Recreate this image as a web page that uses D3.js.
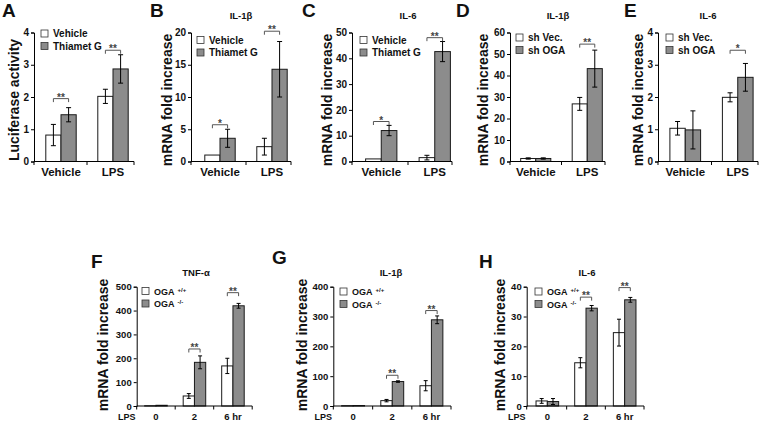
<!DOCTYPE html>
<html>
<head>
<meta charset="utf-8">
<script src="https://cdn.jsdelivr.net/npm/d3@7"></script>
<style>
  body { margin: 0; background: #fff; }
  svg text { font-family: "Liberation Sans Narrow", "Liberation Sans", Arial, sans-serif; font-weight: bold; fill: #111; }
  .num text, text.num { font-family: "Liberation Sans", Arial, sans-serif; }
</style>
</head>
<body>
<svg id="fig" width="765" height="421"></svg>
<script>
// ---- categories / series ----
const vehLps = ["Vehicle", "LPS"];
const lpsTimes = ["0", "2", "6 hr"];
const seriesThiamet = ["Vehicle", "Thiamet G"];
const seriesSh = ["sh Vec.", "sh OGA"];
const seriesOga = ["OGA", "OGA"];
const seriesOgaSup = ["+/+", "-/-"];

// ---- A: luciferase activity ----
const aMean = [[0.82, 1.45], [2.02, 2.87]];
const aErr = [[0.33, 0.22], [0.22, 0.44]];
const aSig = ["**", "**"];
const aSigAt = [1.95, 3.45];
const aTicks = [0, 1, 2, 3, 4];

// ---- B: IL-1b, Thiamet G ----
const bMean = [[1.0, 3.6], [2.3, 14.3]];
const bErr = [[0, 1.4], [1.3, 4.3]];
const bSig = ["*", "**"];
const bSigAt = [5.7, 20.2];
const bTicks = [0, 5, 10, 15, 20];

// ---- C: IL-6, Thiamet G ----
const cMean = [[1.0, 12.0], [1.5, 42.6]];
const cErr = [[0, 2.0], [0.9, 3.9]];
const cSig = ["*", "**"];
const cSigAt = [15.5, 48];
const cTicks = [0, 10, 20, 30, 40, 50];

// ---- D: IL-1b, sh OGA ----
const dMean = [[1.4, 1.4], [26.8, 43.2]];
const dErr = [[0.3, 0.3], [3.0, 8.6]];
const dSig = ["", "**"];
const dSigAt = [null, 54.6];
const dTicks = [0, 10, 20, 30, 40, 50, 60];

// ---- E: IL-6, sh OGA ----
const eMean = [[1.03, 0.98], [1.99, 2.61]];
const eErr = [[0.21, 0.59], [0.14, 0.43]];
const eSig = ["", "*"];
const eSigAt = [null, 3.45];
const eTicks = [0, 1, 2, 3, 4];

// ---- F: TNF-a, OGA KO ----
const fMean = [[1, 3], [42, 183], [168, 420]];
const fErr = [[0, 0], [10, 27], [32, 10]];
const fSig = ["", "**", "**"];
const fSigAt = [null, 239, 475];
const fTicks = [0, 100, 200, 300, 400, 500];

// ---- G: IL-1b, OGA KO ----
const gMean = [[1, 1.5], [18, 82], [68, 289]];
const gErr = [[0, 0], [4, 2.5], [17, 13]];
const gSig = ["", "**", "**"];
const gSigAt = [null, 103, 320];
const gTicks = [0, 100, 200, 300, 400];

// ---- H: IL-6, OGA KO ----
const hMean = [[1.7, 1.5], [14.5, 32.8], [24.6, 35.6]];
const hErr = [[0.8, 1.0], [1.7, 0.9], [4.5, 0.8]];
const hSig = ["", "**", "**"];
const hSigAt = [null, 36.5, 39.7];
const hTicks = [0, 10, 20, 30, 40];

const panels = [
  { id: "A", groups: vehLps, series: seriesThiamet, mean: aMean, err: aErr, sig: aSig, sigAt: aSigAt, ticks: aTicks, title: null, yTitle: "Luciferase activity" },
  { id: "B", groups: vehLps, series: seriesThiamet, mean: bMean, err: bErr, sig: bSig, sigAt: bSigAt, ticks: bTicks, title: "IL-1β", yTitle: "mRNA fold increase" },
  { id: "C", groups: vehLps, series: seriesThiamet, mean: cMean, err: cErr, sig: cSig, sigAt: cSigAt, ticks: cTicks, title: "IL-6", yTitle: "mRNA fold increase" },
  { id: "D", groups: vehLps, series: seriesSh, mean: dMean, err: dErr, sig: dSig, sigAt: dSigAt, ticks: dTicks, title: "IL-1β", yTitle: "mRNA fold increase" },
  { id: "E", groups: vehLps, series: seriesSh, mean: eMean, err: eErr, sig: eSig, sigAt: eSigAt, ticks: eTicks, title: "IL-6", yTitle: "mRNA fold increase" },
  { id: "F", groups: lpsTimes, series: seriesOga, sup: seriesOgaSup, mean: fMean, err: fErr, sig: fSig, sigAt: fSigAt, ticks: fTicks, title: "TNF-α", yTitle: "mRNA fold increase" },
  { id: "G", groups: lpsTimes, series: seriesOga, sup: seriesOgaSup, mean: gMean, err: gErr, sig: gSig, sigAt: gSigAt, ticks: gTicks, title: "IL-1β", yTitle: "mRNA fold increase" },
  { id: "H", groups: lpsTimes, series: seriesOga, sup: seriesOgaSup, mean: hMean, err: hErr, sig: hSig, sigAt: hSigAt, ticks: hTicks, title: "IL-6", yTitle: "mRNA fold increase" }
];

// layout (pixels), kept apart from the values
const layout = {
  A: { ax: 34, gx: [35, 139], xEnd: 134, top: 32.5, bottom: 161.5, letter: [2, 17], titleX: 0, yTitleX: 13.5, leg: [41, 33.5] },
  B: { ax: 191, gx: [194, 298], xEnd: 291, top: 32.5, bottom: 161.5, letter: [150, 17], titleX: 241, yTitleX: 166.5, leg: [197, 40] },
  C: { ax: 352, gx: [354.5, 461.5], xEnd: 452, top: 32.5, bottom: 161.5, letter: [302, 17], titleX: 408, yTitleX: 326.5, leg: [360, 40] },
  D: { ax: 510, gx: [510, 613], xEnd: 605, top: 32.5, bottom: 161.5, letter: [456, 17], titleX: 558, yTitleX: 483, leg: [516, 37.5] },
  E: { ax: 658, gx: [659, 764], xEnd: 758, top: 32.5, bottom: 161.5, letter: [624, 17], titleX: 708, yTitleX: 638, leg: [666, 37.5] },
  F: { ax: 136.7, gx: [136.7, 252.2], xEnd: 252.2, top: 286.7, bottom: 406, letter: [91, 268], titleX: 196, yTitleX: 103, leg: [142, 291] },
  G: { ax: 333.3, gx: [333.5, 451], xEnd: 451, top: 286.7, bottom: 406, letter: [272, 264], titleX: 391, yTitleX: 301.7, leg: [340, 291.5] },
  H: { ax: 526.7, gx: [528, 644], xEnd: 644, top: 286.7, bottom: 406, letter: [479, 268], titleX: 587, yTitleX: 500, leg: [535, 291.5] }
};

const fills = ["#ffffff", "#8c8c8c"];
const svg = d3.select("#fig");

panels.forEach(function (p) {
  const L = layout[p.id];
  const isTop = L.bottom < 200;
  const g = svg.append("g");

  const y = d3.scaleLinear().domain([0, d3.max(p.ticks)]).range([L.bottom, L.top]);
  const gx = d3.scaleBand().domain(p.groups).range(L.gx);
  const sx = d3.scaleBand().domain([0, 1]).range([0, gx.bandwidth()]).paddingOuter(0.71);
  const bw = sx.bandwidth();
  const cap = isTop ? 2.5 : 2;

  // bars
  p.groups.forEach(function (grp, i) {
    p.mean[i].forEach(function (v, j) {
      g.append("rect")
        .attr("x", gx(grp) + sx(j))
        .attr("y", y(v))
        .attr("width", bw)
        .attr("height", L.bottom - y(v))
        .attr("fill", fills[j])
        .attr("stroke", "#1a1a1a")
        .attr("stroke-width", 1);
    });
  });

  // error bars
  p.groups.forEach(function (grp, i) {
    p.mean[i].forEach(function (v, j) {
      const e = p.err[i][j];
      if (!e) return;
      const cx = gx(grp) + sx(j) + bw / 2;
      const eb = g.append("g").attr("stroke", "#000").attr("stroke-width", 1);
      eb.append("line").attr("x1", cx).attr("x2", cx).attr("y1", y(v + e)).attr("y2", y(Math.max(0, v - e)));
      eb.append("line").attr("x1", cx - cap).attr("x2", cx + cap).attr("y1", y(v + e)).attr("y2", y(v + e));
      eb.append("line").attr("x1", cx - cap).attr("x2", cx + cap).attr("y1", y(Math.max(0, v - e))).attr("y2", y(Math.max(0, v - e)));
    });
  });

  // significance brackets
  p.groups.forEach(function (grp, i) {
    if (!p.sig[i]) return;
    const x1 = gx(grp) + sx(0) + bw / 2;
    const x2 = gx(grp) + sx(1) + bw / 2;
    const by = y(p.sigAt[i]);
    g.append("path")
      .attr("d", `M${x1},${by + 3.5}V${by}H${x2}V${by + 3.5}`)
      .attr("fill", "none")
      .attr("stroke", "#555")
      .attr("stroke-width", 1);
    g.append("text")
      .attr("x", (x1 + x2) / 2)
      .attr("y", by + 2)
      .attr("text-anchor", "middle")
      .attr("font-size", 10)
      .style("fill", "#444")
      .text(p.sig[i]);
  });

  // y axis
  const ya = g.append("g")
    .attr("class", "num")
    .attr("transform", `translate(${L.ax},0)`)
    .call(d3.axisLeft(y).tickValues(p.ticks).tickSize(3).tickPadding(2).tickFormat(d3.format("d")));
  ya.selectAll("text").attr("font-size", isTop ? 10 : 9.5);
  ya.selectAll("path,line").attr("stroke", "#000");

  // x axis: line, ticks between categories, labels
  const xa = g.append("g").attr("transform", `translate(0,${L.bottom})`);
  xa.append("line").attr("x1", L.ax).attr("x2", L.xEnd).attr("stroke", "#000");
  const bounds = [L.ax].concat(p.groups.slice(1).map(d => gx(d)), [L.xEnd]);
  xa.selectAll("line.bt").data(bounds).join("line")
    .attr("class", "bt")
    .attr("x1", d => d).attr("x2", d => d)
    .attr("y1", 0).attr("y2", 3.5)
    .attr("stroke", "#000");
  const xl = xa.append("g")
    .attr("class", isTop ? "" : "num")
    .call(d3.axisBottom(gx).tickSize(0).tickPadding(isTop ? 6 : 7.5));
  xl.select(".domain").remove();
  xl.selectAll("text").attr("font-size", isTop ? 11.5 : 9.5);
  if (!isTop) {
    xa.append("text")
      .attr("x", L.ax - 10).attr("y", 14)
      .attr("text-anchor", "middle")
      .attr("font-size", 9)
      .text("LPS");
  }

  // legend
  const lg = g.append("g").attr("transform", `translate(${L.leg[0]},${L.leg[1]})`);
  p.series.forEach(function (s, j) {
    const row = lg.append("g").attr("transform", `translate(0,${j * 12.5})`);
    row.append("rect")
      .attr("x", 0).attr("y", -3.5).attr("width", 7).attr("height", 7)
      .attr("fill", fills[j]).attr("stroke", "#333").attr("stroke-width", 0.8);
    const t = row.append("text").attr("x", 12).attr("y", 3.5).attr("font-size", isTop ? 10 : 9).text(s);
    if (p.sup) {
      t.append("tspan").attr("dx", 3).attr("dy", -3).attr("font-size", 6).text(p.sup[j]);
    }
  });

  // title
  if (p.title) {
    g.append("text")
      .attr("x", L.titleX).attr("y", isTop ? 19 : 276)
      .attr("text-anchor", "middle")
      .attr("font-size", 9.5)
      .text(p.title);
  }

  // y title
  g.append("text")
    .attr("transform", `translate(${L.yTitleX},${isTop ? 100 : 345}) rotate(-90)`)
    .attr("text-anchor", "middle")
    .attr("dominant-baseline", "central")
    .attr("font-size", 14)
    .text(p.yTitle);

  // panel letter
  g.append("text")
    .attr("x", L.letter[0]).attr("y", L.letter[1])
    .style("font-family", "'Liberation Sans', Arial, sans-serif")
    .attr("font-size", 19)
    .text(p.id);
});
</script>
</body>
</html>
